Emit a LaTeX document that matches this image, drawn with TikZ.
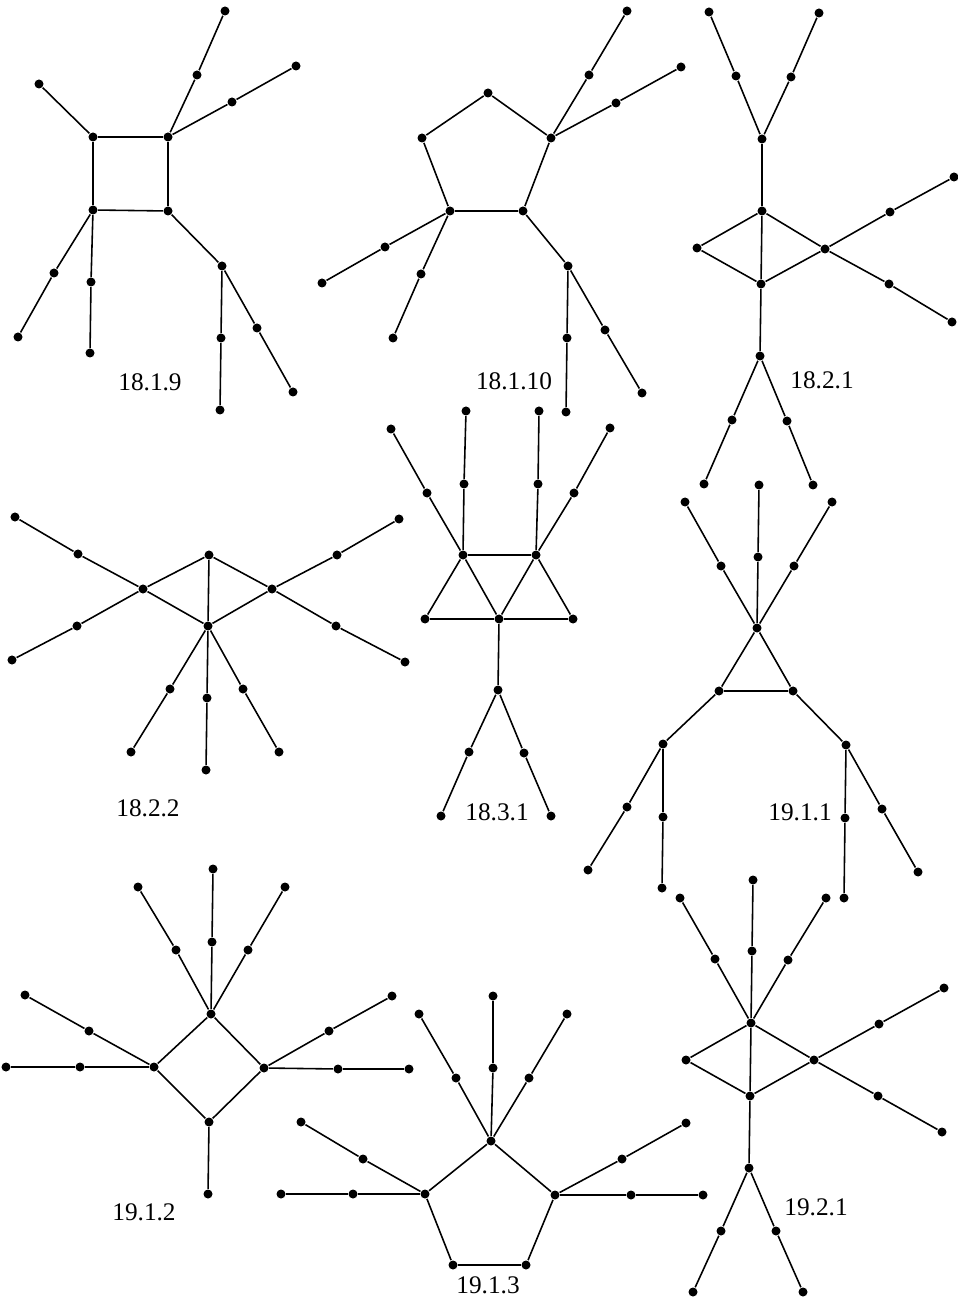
\documentclass[tikz,border=0pt]{standalone}
\usepackage{fontspec}
\setmainfont{Liberation Serif}
\usepackage{tikz}
\usetikzlibrary{arrows.meta, positioning}

\tikzset{
  vtx/.style={circle, fill=black, inner sep=0pt, minimum size=0.9mm},
  edge/.style={line width=0.45pt, black},
  glabel/.style={font=\fontsize{7.2}{8}\selectfont, inner sep=0pt}
}

\begin{document}
\begin{tikzpicture}[x=0.01cm, y=-0.01cm]
  \useasboundingbox (0,0) rectangle (957,1301);
  % 18.1.9
  \foreach \n/\x/\y in {a1/93/137, a2/168/137, a3/93/210, a4/168/211, a5/39/84, a6/197/75, a7/225/11, a8/232/102, a9/296/66, a10/54/273, a11/18/337, a12/91/282, a13/90/353, a14/222/266, a15/221/338, a16/220/410, a17/257/328, a18/293/392}
    \node[vtx] (\n) at (\x,\y) {};
  \foreach \p/\q in {a1/a2, a2/a4, a4/a3, a3/a1, a1/a5, a2/a6, a6/a7, a2/a8, a8/a9, a3/a10, a10/a11, a3/a12, a12/a13, a4/a14, a14/a15, a15/a16, a14/a17, a17/a18}
    \draw[edge] (\p) -- (\q);
  \node[glabel] (la) at (150,382) {18.1.9};
  % 18.1.10
  \foreach \n/\x/\y in {b1/488/93, b2/422/138, b3/551/138, b4/450/211, b5/523/211, b6/589/75, b7/627/11, b8/616/103, b9/681/67, b10/385/247, b11/322/283, b12/421/274, b13/393/338, b14/568/266, b15/567/338, b16/566/412, b17/605/330, b18/642/393}
    \node[vtx] (\n) at (\x,\y) {};
  \foreach \p/\q in {b1/b2, b1/b3, b2/b4, b3/b5, b4/b5, b3/b6, b6/b7, b3/b8, b8/b9, b4/b10, b10/b11, b4/b12, b12/b13, b5/b14, b14/b15, b15/b16, b14/b17, b17/b18}
    \draw[edge] (\p) -- (\q);
  \node[glabel] (lb) at (514,381) {18.1.10};
  % 18.2.1
  \foreach \n/\x/\y in {c1/709/12, c2/819/13, c3/736/76, c4/791/77, c5/762/139, c6/762/211, c7/697/248, c8/825/249, c9/761/284, c10/890/212, c11/954/177, c12/889/284, c13/952/322, c14/760/356, c15/732/420, c16/704/484, c17/787/421, c18/813/485}
    \node[vtx] (\n) at (\x,\y) {};
  \foreach \p/\q in {c1/c3, c3/c5, c2/c4, c4/c5, c5/c6, c6/c7, c6/c8, c6/c9, c7/c9, c8/c9, c8/c10, c10/c11, c8/c12, c12/c13, c9/c14, c14/c15, c15/c16, c14/c17, c17/c18}
    \draw[edge] (\p) -- (\q);
  \node[glabel] (lc) at (822,380) {18.2.1};
  % 18.2.2
  \foreach \n/\x/\y in {d1/209/555, d2/143/589, d3/272/589, d4/208/626, d5/78/554, d6/15/517, d7/77/626, d8/12/660, d9/337/555, d10/399/519, d11/336/626, d12/405/662, d13/170/689, d14/131/752, d15/207/698, d16/206/770, d17/243/689, d18/279/752}
    \node[vtx] (\n) at (\x,\y) {};
  \foreach \p/\q in {d1/d2, d1/d3, d1/d4, d2/d4, d3/d4, d2/d5, d5/d6, d2/d7, d7/d8, d3/d9, d9/d10, d3/d11, d11/d12, d4/d13, d13/d14, d4/d15, d15/d16, d4/d17, d17/d18}
    \draw[edge] (\p) -- (\q);
  \node[glabel] (ld) at (148,808) {18.2.2};
  % 18.3.1
  \foreach \n/\x/\y in {e1/463/555, e2/536/555, e3/425/619, e4/499/619, e5/573/619, e6/464/484, e7/466/411, e8/427/493, e9/391/429, e10/538/484, e11/539/411, e12/574/493, e13/610/428, e14/498/690, e15/469/752, e16/441/816, e17/524/753, e18/551/816}
    \node[vtx] (\n) at (\x,\y) {};
  \foreach \p/\q in {e1/e2, e1/e3, e1/e4, e2/e4, e2/e5, e3/e4, e4/e5, e1/e6, e6/e7, e1/e8, e8/e9, e2/e10, e10/e11, e2/e12, e12/e13, e4/e14, e14/e15, e15/e16, e14/e17, e17/e18}
    \draw[edge] (\p) -- (\q);
  \node[glabel] (le) at (497,812) {18.3.1};
  % 19.1.1
  \foreach \n/\x/\y in {f1/685/502, f2/759/485, f3/832/502, f4/721/566, f5/758/557, f6/794/566, f7/757/628, f8/719/691, f9/793/691, f10/663/744, f11/627/807, f12/588/870, f13/663/817, f14/662/888, f15/846/745, f16/882/809, f17/918/872, f18/845/818, f19/844/898}
    \node[vtx] (\n) at (\x,\y) {};
  \foreach \p/\q in {f1/f4, f4/f7, f2/f5, f5/f7, f3/f6, f6/f7, f7/f8, f7/f9, f8/f9, f8/f10, f10/f11, f11/f12, f10/f13, f13/f14, f9/f15, f15/f16, f16/f17, f15/f18, f18/f19}
    \draw[edge] (\p) -- (\q);
  \node[glabel] (lf) at (800,812) {19.1.1};
  % 19.1.2
  \foreach \n/\x/\y in {g1/211/1014, g2/154/1067, g3/264/1068, g4/209/1122, g5/176/950, g6/138/887, g7/212/942, g8/213/869, g9/248/950, g10/285/887, g11/89/1031, g12/25/995, g13/80/1067, g14/6/1067, g15/329/1031, g16/392/996, g17/338/1069, g18/409/1069, g19/208/1194}
    \node[vtx] (\n) at (\x,\y) {};
  \foreach \p/\q in {g1/g2, g1/g3, g2/g4, g3/g4, g1/g5, g5/g6, g1/g7, g7/g8, g1/g9, g9/g10, g2/g11, g11/g12, g2/g13, g13/g14, g3/g15, g15/g16, g3/g17, g17/g18, g4/g19}
    \draw[edge] (\p) -- (\q);
  \node[glabel] (lg) at (144,1212) {19.1.2};
  % 19.1.3
  \foreach \n/\x/\y in {h1/491/1141, h2/425/1194, h3/555/1195, h4/453/1265, h5/526/1265, h6/456/1078, h7/419/1014, h8/493/1068, h9/493/996, h10/529/1078, h11/567/1014, h12/363/1159, h13/301/1122, h14/353/1194, h15/281/1194, h16/622/1159, h17/686/1123, h18/631/1195, h19/703/1195}
    \node[vtx] (\n) at (\x,\y) {};
  \foreach \p/\q in {h1/h2, h1/h3, h2/h4, h3/h5, h4/h5, h1/h6, h6/h7, h1/h8, h8/h9, h1/h10, h10/h11, h2/h12, h12/h13, h2/h14, h14/h15, h3/h16, h16/h17, h3/h18, h18/h19}
    \draw[edge] (\p) -- (\q);
  \node[glabel] (lh) at (488,1285) {19.1.3};
  % 19.2.1
  \foreach \n/\x/\y in {i1/680/898, i2/753/880, i3/826/898, i4/715/959, i5/752/951, i6/788/960, i7/751/1023, i8/686/1060, i9/814/1060, i10/750/1096, i11/879/1024, i12/944/988, i13/878/1096, i14/942/1132, i15/749/1168, i16/721/1231, i17/693/1292, i18/776/1231, i19/803/1292}
    \node[vtx] (\n) at (\x,\y) {};
  \foreach \p/\q in {i1/i4, i4/i7, i2/i5, i5/i7, i3/i6, i6/i7, i7/i8, i7/i9, i7/i10, i8/i10, i9/i10, i9/i11, i11/i12, i9/i13, i13/i14, i10/i15, i15/i16, i16/i17, i15/i18, i18/i19}
    \draw[edge] (\p) -- (\q);
  \node[glabel] (li) at (816,1207) {19.2.1};
\end{tikzpicture}
\end{document}
